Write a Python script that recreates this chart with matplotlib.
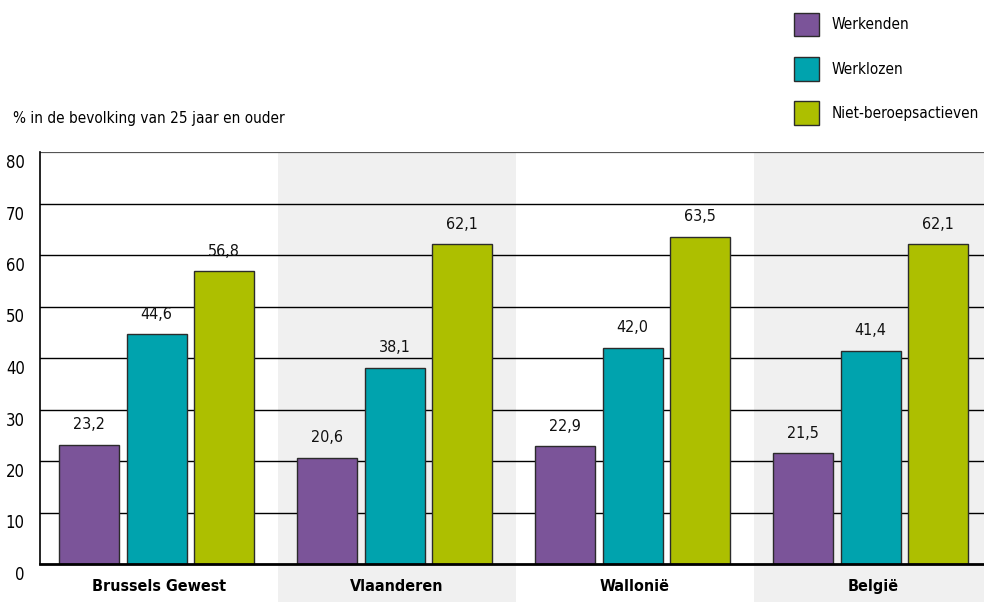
import numpy as np
import matplotlib
matplotlib.use("Agg")
import matplotlib.pyplot as plt
import matplotlib.transforms as mtransforms
from matplotlib.patches import Patch

plt.rcParams["font.family"] = ["DejaVu Sans"]
plt.rcParams["font.stretch"] = "condensed"

# ── data ─────────────────────────────────────────────────────────────
regions     = ["Brussels Gewest", "Vlaanderen", "Wallonië", "België"]
series      = ["Werkenden", "Werklozen", "Niet-beroepsactieven"]
werkenden   = [23.2, 20.6, 22.9, 21.5]
werklozen   = [44.6, 38.1, 42.0, 41.4]
niet_actief = [56.8, 62.1, 63.5, 62.1]
y_ticks     = [0, 10, 20, 30, 40, 50, 60, 70, 80]

# ── style ────────────────────────────────────────────────────────────
COLORS = ["#7B5499", "#00A3AE", "#ADBF00"]
BAND   = "#F0F0F0"
EDGE   = "#2b2b2b"
OFFSET = 0.284
WIDTH  = 0.252
SHIFT  = -0.01

fig = plt.figure(figsize=(9.84, 6.02), dpi=100)
ax = fig.add_axes([40 / 984, 38 / 602, 952 / 984, 412 / 602])

x = np.arange(len(regions))

# alternating background bands (also running under the category labels)
for i in x:
    if i % 2 == 1:
        ax.axvspan(i - 0.5, i + 0.5, ymin=-0.1, ymax=1, color=BAND,
                   zorder=0, clip_on=False, lw=0)

# grid lines
for t in y_ticks[1:-1]:
    ax.axhline(t, color="black", lw=1.0, zorder=1)
ax.axhline(y_ticks[-1], color="#555555", lw=1.6, zorder=1)

for k, vals in enumerate([werkenden, werklozen, niet_actief]):
    xs = x + SHIFT + (k - 1) * OFFSET
    bars = ax.bar(xs, vals, WIDTH, color=COLORS[k], edgecolor=EDGE,
                  linewidth=1.0, zorder=3)
    for b, v in zip(bars, vals):
        ax.annotate(f"{v:.1f}".replace(".", ","),
                    (b.get_x() + b.get_width() / 2, v),
                    xytext=(0, 9), textcoords="offset points",
                    ha="center", va="bottom", fontsize=11.5, color="#111111")

ax.set_xlim(-0.5, len(regions) - 0.5)
ax.set_ylim(0, 80)
ax.set_yticks(y_ticks)
ax.set_xticks(x)
ax.set_xticklabels(regions, fontsize=11.5, fontweight="bold")
ax.tick_params(axis="x", length=0, pad=11)
ax.tick_params(axis="y", length=0, pad=11, labelsize=12)

# y labels sit a little below their grid lines
shift = mtransforms.ScaledTranslation(0, -9 / 100, fig.dpi_scale_trans)
for lbl in ax.get_yticklabels():
    lbl.set_transform(lbl.get_transform() + shift)

for s in ["top", "right"]:
    ax.spines[s].set_visible(False)
ax.spines["left"].set_linewidth(1.2)
ax.spines["bottom"].set_linewidth(2.0)
ax.spines["left"].set_zorder(4)
ax.spines["bottom"].set_zorder(4)
ax.patch.set_alpha(0)

fig.text(13 / 984, 1 - 118 / 602, "% in de bevolking van 25 jaar en ouder",
         fontsize=11, va="center", ha="left")

handles = [Patch(facecolor=c, edgecolor=EDGE, lw=1.0) for c in COLORS]
fig.legend(handles, series,
           loc="upper left", bbox_to_anchor=(783 / 984, 1 - 2 / 602),
           frameon=False, fontsize=11, handlelength=1.65, handleheight=2.0,
           labelspacing=1.35, handletextpad=0.85, borderpad=0.2)

fig.savefig("out.png", dpi=100)
plt.close(fig)
